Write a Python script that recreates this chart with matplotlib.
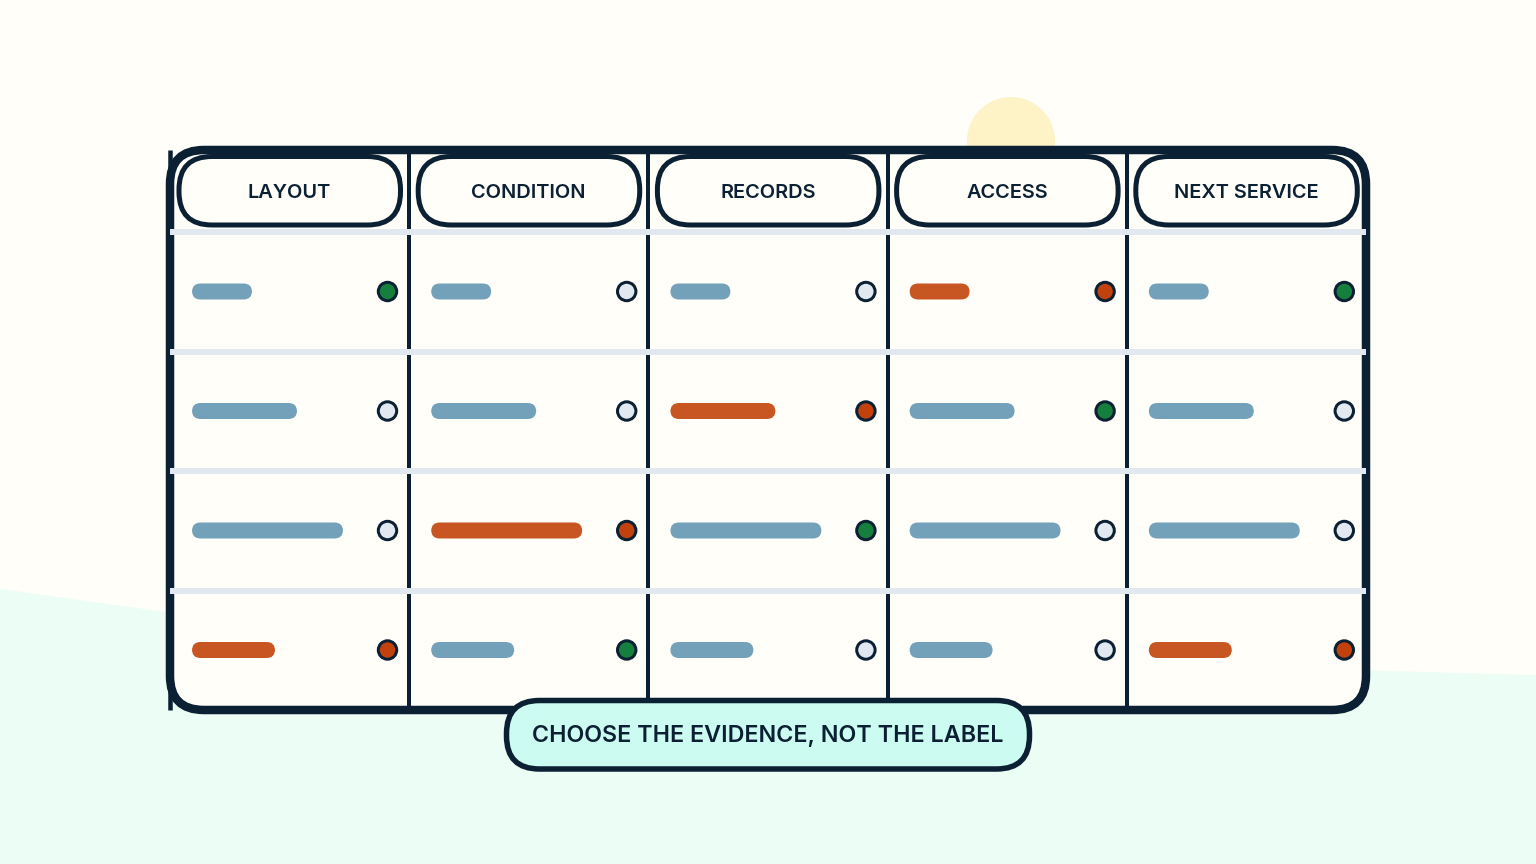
import matplotlib
matplotlib.use("Agg")
import matplotlib.pyplot as plt
from matplotlib.patches import FancyBboxPatch, Circle, Polygon

# Table content
columns = ["LAYOUT", "CONDITION", "RECORDS", "ACCESS", "NEXT SERVICE"]
row_lengths = [60, 105, 151, 83]
# one list per row: "good" = green, "bad" = orange, "none" = empty
row_status = [
    ["good", "none", "none", "bad", "good"],
    ["none", "none", "bad", "good", "none"],
    ["none", "bad", "good", "none", "none"],
    ["bad", "good", "none", "none", "bad"],
]
caption = "CHOOSE THE EVIDENCE, NOT THE LABEL"

# Colours
BG = "#fffef9"
HILL = "#ecfdf5"
SUN = "#fef3c7"
INK = "#0b2033"
GRID = "#e2e8f0"
BAR = "#73a1ba"
BAR_HOT = "#c85623"
PILL = "#ccfbf1"
DOT_FILL = {"good": "#15803d", "bad": "#c2410c", "none": GRID}

FONT = "Inter"
px = 72 / 100  # pixels to points at dpi 100


def round_box(ax, x0, y0, x1, y1, radius, face, edge="none", lw=0, z=1):
    box = FancyBboxPatch((x0, y0), x1 - x0, y1 - y0,
                         boxstyle=f"round,pad=0,rounding_size={radius}",
                         facecolor=face, edgecolor=edge, linewidth=lw * px, zorder=z)
    ax.add_patch(box)


fig = plt.figure(figsize=(15.36, 8.64), dpi=100, facecolor=BG)
ax = fig.add_axes([0, 0, 1, 1])
ax.set_xlim(0, 1536)
ax.set_ylim(864, 0)
ax.axis("off")

# Background
ax.add_patch(Polygon([(0, 589), (166, 612), (1370, 670.5), (1536, 675), (1536, 864), (0, 864)],
                     closed=True, facecolor=HILL, edgecolor="none", zorder=0))
ax.add_patch(Circle((1011, 141), 44, facecolor=SUN, edgecolor="none", zorder=0))

# Table frame
left, right, top, bottom = 170, 1366, 150, 710
col_w = (right - left) / len(columns)
round_box(ax, left, top, right, bottom, 34, BG, z=1)

for i in range(1, len(columns)):
    x = left + i * col_w
    ax.plot([x, x], [top, bottom], color=INK, lw=4 * px, solid_capstyle="butt", zorder=2)

round_box(ax, left, top, right, bottom, 34, "none", INK, 8.5, z=3)
ax.plot([left, left], [top, bottom], color=INK, lw=4.5 * px, solid_capstyle="butt", zorder=3)

# Row separators run over the dividers
row_lines = [232, 351.5, 471, 590.5]
for y in row_lines:
    ax.plot([left, right], [y, y], color=GRID, lw=6 * px, solid_capstyle="butt", zorder=4)

# Header pills
for i, name in enumerate(columns):
    x = left + i * col_w
    round_box(ax, x + 9, 156.5, x + 230.5, 225, 33, BG, INK, 5, z=5)
    ax.text(x + 119.5, 190.5, name, ha="center", va="center_baseline", color=INK,
            fontsize=20 * px, fontweight="semibold", family=FONT, zorder=6)

# Cells
row_h = 119.5
for r, length in enumerate(row_lengths):
    y = 291.5 + r * row_h
    for c, status in enumerate(row_status[r]):
        x = left + c * col_w
        color = BAR_HOT if status == "bad" else BAR
        round_box(ax, x + 22, y - 8, x + 22 + length, y + 8, 8.5, color, z=5)
        ax.add_patch(Circle((x + 217.5, y), 9.2, facecolor=DOT_FILL[status],
                            edgecolor=INK, linewidth=3 * px, zorder=5))

# Caption pill
round_box(ax, 506.5, 700.5, 1029.5, 769, 33, PILL, INK, 5.5, z=7)
ax.text(768, 733.5, caption, ha="center", va="center_baseline", color=INK,
        fontsize=23.3 * px, fontweight="semibold", family=FONT, zorder=8)

fig.savefig("out.png", dpi=100, facecolor=BG)
